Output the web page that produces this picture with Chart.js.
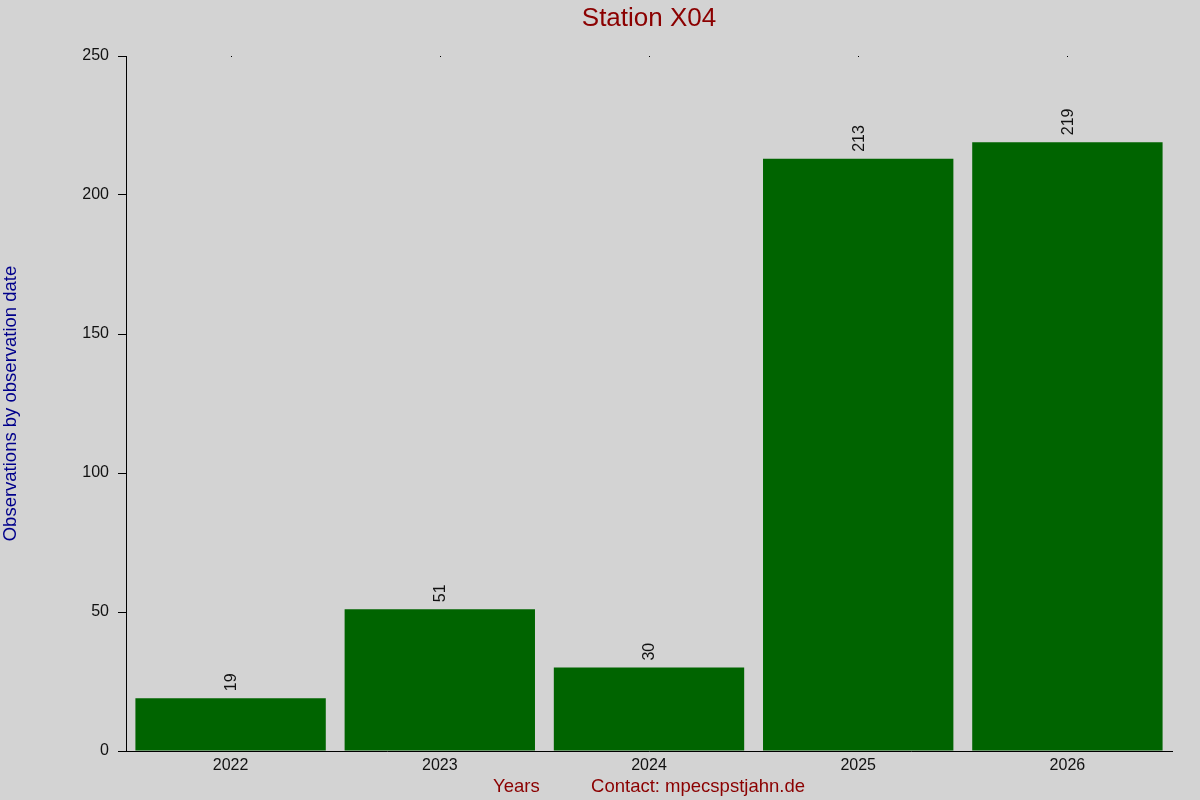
<!DOCTYPE html>
<html>
<head>
<meta charset="utf-8">
<script src="https://cdn.jsdelivr.net/npm/chart.js@4/dist/chart.umd.min.js"></script>
<style>
  html, body { margin: 0; padding: 0; background: #d3d3d3; }
  #wrap { width: 1200px; height: 800px; }
</style>
</head>
<body>
<div id="wrap"><canvas id="chart" width="1200" height="800"></canvas></div>
<script>
// data
var years = ['2022', '2023', '2024', '2025', '2026'];
var counts = [19, 51, 30, 213, 219];
var yTicks = [0, 50, 100, 150, 200, 250];

var barColor = '#006400';
var fontFam = '"Liberation Sans", Arial, sans-serif';

// draws the rotated count above every bar
var valueLabels = {
    id: 'valueLabels',
    afterDatasetsDraw: function(chart) {
        var ctx = chart.ctx;
        var meta = chart.getDatasetMeta(0);
        ctx.save();
        ctx.font = '16px ' + fontFam;
        ctx.fillStyle = '#111';
        ctx.textAlign = 'left';
        ctx.textBaseline = 'middle';
        meta.data.forEach(function(bar, i) {
            ctx.save();
            ctx.translate(bar.x + 1, bar.y - 7);
            ctx.rotate(-Math.PI / 2);
            ctx.fillText(String(counts[i]), 0, 0);
            ctx.restore();
        });
        ctx.restore();
    }
};

// gray background, title centred over the plot, tiny marks along the top edge
var frame = {
    id: 'frame',
    beforeDraw: function(chart) {
        var ctx = chart.ctx;
        ctx.save();
        ctx.fillStyle = '#d3d3d3';
        ctx.fillRect(0, 0, chart.width, chart.height);
        ctx.restore();
    },
    afterDraw: function(chart) {
        var ctx = chart.ctx;
        var area = chart.chartArea;
        var xs = chart.scales.x;
        ctx.save();
        ctx.font = '26px ' + fontFam;
        ctx.fillStyle = '#8b0000';
        ctx.textAlign = 'center';
        ctx.textBaseline = 'middle';
        ctx.fillText('Station X04', (area.left + area.right) / 2, 19);
        ctx.fillStyle = '#000';
        years.forEach(function(y, i) {
            ctx.fillRect(Math.round(xs.getPixelForTick(i)), area.top, 1, 1);
        });
        ctx.restore();
    }
};

new Chart(document.getElementById('chart'), {
    type: 'bar',
    data: {
        labels: years,
        datasets: [{
            label: 'Observations',
            data: counts,
            backgroundColor: barColor,
            borderWidth: 0,
            barPercentage: 0.91,
            categoryPercentage: 1.0
        }]
    },
    options: {
        responsive: false,
        animation: false,
        layout: { padding: { top: 56, right: 28, bottom: 0, left: 0 } },
        plugins: {
            legend: { display: false },
            tooltip: { enabled: false },
            title: { display: false }
        },
        scales: {
            x: {
                grid: { display: false, drawTicks: false },
                border: { display: true, color: '#000', width: 1 },
                ticks: {
                    color: '#111',
                    font: { family: fontFam, size: 16 },
                    padding: 5
                },
                title: {
                    display: true,
                    text: 'Years          Contact: mpecspstjahn.de',
                    color: '#8b0000',
                    font: { family: fontFam, size: 18.5 },
                    padding: { top: 1, bottom: 2 }
                },
                afterFit: function(scale) { scale.height = 49; }
            },
            y: {
                min: 0,
                max: 250,
                afterBuildTicks: function(scale) {
                    scale.ticks = yTicks.map(function(v) { return { value: v }; });
                },
                grid: { display: true, drawOnChartArea: false, drawTicks: true, tickLength: 8, color: '#000' },
                border: { display: true, color: '#000', width: 1 },
                ticks: {
                    color: '#111',
                    font: { family: fontFam, size: 16 },
                    padding: 9
                },
                title: {
                    display: true,
                    text: 'Observations by observation date',
                    color: '#00008b',
                    font: { family: fontFam, size: 18.5 },
                    padding: { top: 0, bottom: 0 }
                },
                afterFit: function(scale) { scale.width = 126; }
            }
        }
    },
    plugins: [frame, valueLabels]
});
</script>
</body>
</html>
